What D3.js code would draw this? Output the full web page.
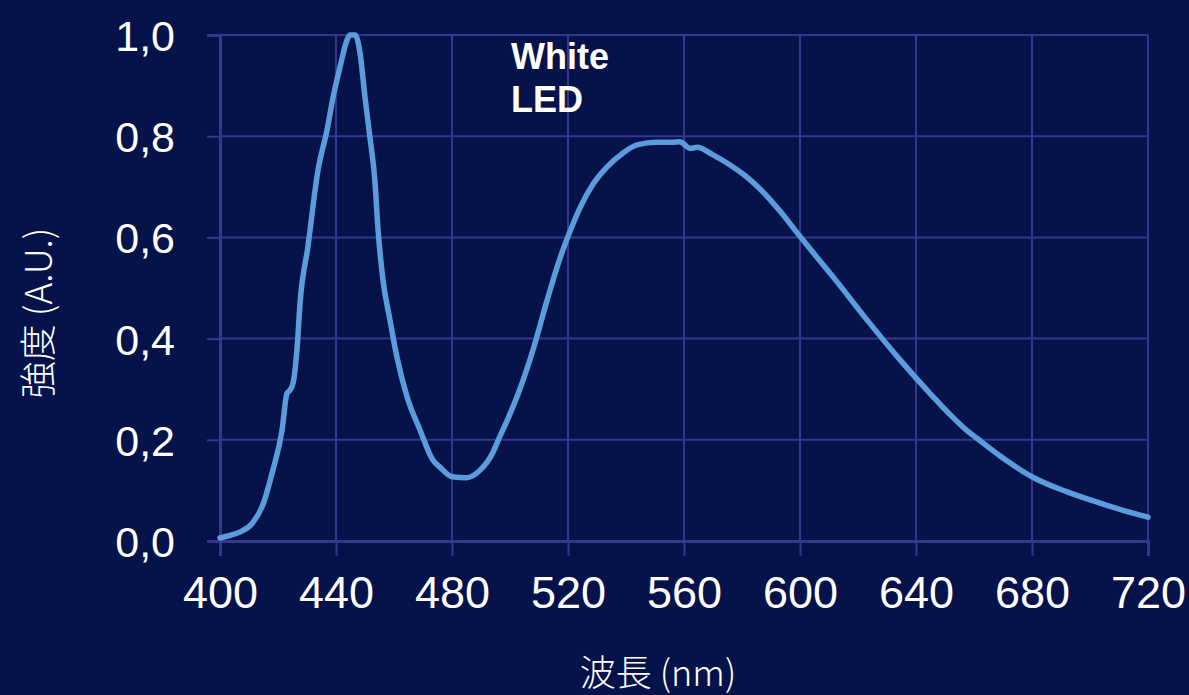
<!DOCTYPE html>
<html>
<head>
<meta charset="utf-8">
<script src="https://cdn.jsdelivr.net/npm/d3@7/dist/d3.min.js"></script>
<style>
html,body{margin:0;padding:0;background:#06124a;}
svg{display:block;}
</style>
</head>
<body>
<svg id="chart" width="1189" height="695"></svg>
<script>
const wavelength = [400,404,407,411,415,418,421.4,423.1,424.1,425.2,426.6,427.6,430.3,433.8,436.9,439,441.4,443.8,444.8,446.6,448.3,450,451.7,453.4,454.5,456.2,458.6,461,464.5,469,473.4,476,480,485,489.7,494.1,496,499,503.4,507.9,512.8,517.2,520.7,524.1,528.6,533.4,539,543.8,550.7,556.2,558.6,562.1,564.5,570,575.9,581.7,587.2,593.1,598.9,604.5,611.4,623.1,634.5,645.9,651.7,657.6,661,669,680.3,692.1,703.4,714.8,720];
const intensity = [0.006,0.012,0.018,0.034,0.075,0.135,0.219,0.292,0.298,0.312,0.383,0.470,0.581,0.733,0.812,0.877,0.937,0.990,1.0,1.0,0.964,0.877,0.798,0.713,0.615,0.516,0.437,0.364,0.285,0.219,0.160,0.145,0.127,0.125,0.140,0.175,0.200,0.238,0.300,0.377,0.476,0.558,0.612,0.658,0.705,0.739,0.767,0.783,0.788,0.788,0.789,0.776,0.778,0.763,0.743,0.719,0.690,0.652,0.610,0.570,0.522,0.437,0.358,0.285,0.250,0.218,0.203,0.168,0.126,0.097,0.075,0.055,0.047];
const xTicks = [400,440,480,520,560,600,640,680,720];
const yTicks = [0,0.2,0.4,0.6,0.8,1.0];
const seriesLabel = ["White","LED"];
const xTitle = "波長 (nm)";
const yTitle = "強度 (A.U.)";

(function(){
const svg = d3.select("#chart");
const W = 1189, H = 695;
const mLeft = 220, mRight = 1148, mTop = 35, mBottom = 541;
const gridColor = "#34378c";

svg.append("rect").attr("width",W).attr("height",H).attr("fill","#06124a");

const x = d3.scaleLinear().domain([400,720]).range([mLeft,mRight]);
const y = d3.scaleLinear().domain([0,1]).range([mBottom,mTop]);

// grid
svg.append("g").selectAll("line").data(xTicks).join("line")
  .attr("x1",d=>x(d)).attr("x2",d=>x(d)).attr("y1",mTop).attr("y2",mBottom)
  .attr("stroke",gridColor).attr("stroke-width",2);
svg.append("g").selectAll("line").data(yTicks).join("line")
  .attr("x1",mLeft).attr("x2",mRight).attr("y1",d=>y(d)).attr("y2",d=>y(d))
  .attr("stroke",gridColor).attr("stroke-width",2);

// axes
const fmt = d => d3.format(".1f")(d).replace(".", ",");
const xAxis = svg.append("g").attr("transform",`translate(0,${mBottom})`)
  .call(d3.axisBottom(x).tickValues(xTicks).tickSize(15).tickPadding(20).tickFormat(d3.format("d")));
const yAxis = svg.append("g").attr("transform",`translate(${mLeft},0)`)
  .call(d3.axisLeft(y).tickValues(yTicks).tickSize(13).tickPadding(32).tickFormat(fmt));
[xAxis,yAxis].forEach(g=>{
  g.select(".domain").attr("stroke",gridColor).attr("stroke-width",3);
  g.selectAll(".tick line").attr("stroke",gridColor).attr("stroke-width",2);
  g.selectAll(".tick text").attr("fill","#ffffff")
    .attr("font-family","'Liberation Sans', Arial, sans-serif");
});
xAxis.selectAll(".tick text").attr("font-size",45).attr("dy","0.71em");
yAxis.selectAll(".tick text").attr("font-size",43).attr("dy","0.36em");

// curve
const data = wavelength.map((w,i)=>({w, v: intensity[i]}));
svg.append("path").datum(data)
  .attr("fill","none").attr("stroke","#5b9cdb").attr("stroke-width",5.5)
  .attr("stroke-linejoin","round").attr("stroke-linecap","round")
  .attr("d", d3.line().x(d=>x(d.w)).y(d=>y(d.v)).curve(d3.curveMonotoneX));

// series label
const lab = svg.append("text").attr("x",511).attr("y",69)
  .attr("fill","#ffffff").attr("font-family","'Liberation Sans', Arial, sans-serif")
  .attr("font-weight","bold").attr("font-size",36);
lab.selectAll("tspan").data(seriesLabel).join("tspan")
  .attr("x",511).attr("dy",(d,i)=> i===0 ? 0 : 43).text(d=>d);

// axis titles
svg.append("text").attr("x",658).attr("y",686).attr("text-anchor","middle")
  .attr("fill","#ffffff").attr("font-family","'Noto Sans CJK JP', 'Noto Sans', sans-serif")
  .attr("font-weight",300)
  .attr("font-size",36).text(xTitle);
svg.append("text").attr("transform","translate(52,313) rotate(-90)").attr("text-anchor","middle")
  .attr("fill","#ffffff").attr("font-family","'Noto Sans CJK JP', 'Noto Sans', sans-serif")
  .attr("font-weight",300)
  .attr("font-size",37).text(yTitle);
})();
</script>
</body>
</html>
